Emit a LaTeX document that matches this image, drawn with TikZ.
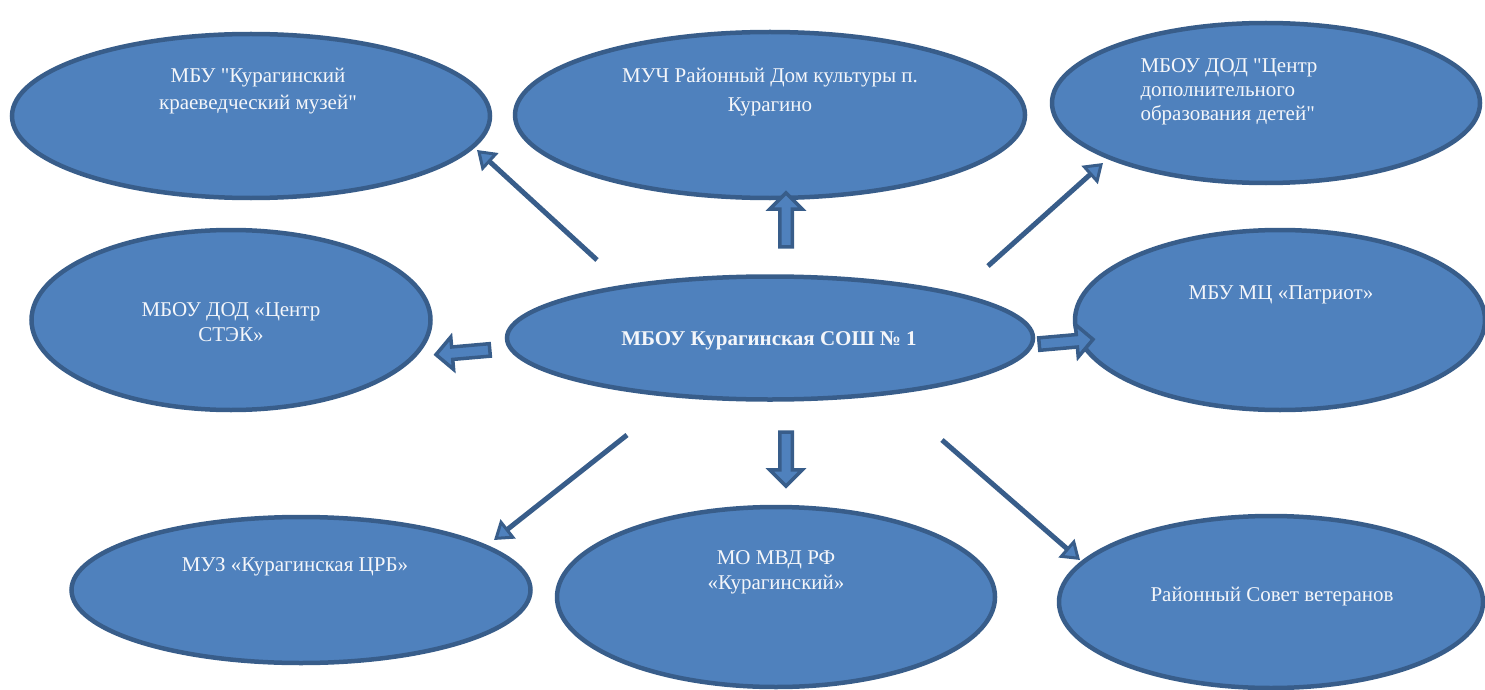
\documentclass[tikz,border=0pt]{standalone}
\usepackage{fontspec}
\setmainfont{Liberation Serif}[Ligatures=TeXOff]
\usetikzlibrary{calc, shapes.geometric, shapes.arrows, arrows.meta}

\definecolor{boxfill}{HTML}{4F81BD}
\definecolor{boxedge}{HTML}{385D8A}
\definecolor{boxtext}{HTML}{F4F6FA}

\tikzset{
	org/.style={ellipse, draw=boxedge, fill=boxfill, line width=4.5pt, inner sep=0pt},
	orgtext/.style={text=boxtext, align=center, font=\fontsize{21}{27}\selectfont},
	thinarrow/.style={draw=boxedge, line width=5pt, -{Triangle[length=18pt, width=24pt, fill=boxfill, line width=3pt]}},
	fatarrow/.style={single arrow, draw=boxedge, fill=boxfill, line width=3.5pt, inner sep=4.5pt,
		single arrow head extend=10pt, minimum height=54pt}
}

\begin{document}
\begin{tikzpicture}[x=1pt, y=-1pt]
			\useasboundingbox (0,0) rectangle (1485,690);
			\clip (0,0) rectangle (1485,690);
			
			% outer ring
			\node [org, minimum width=478pt, minimum height=164pt] (muz) at (251,116) {};
			\node [org, minimum width=510pt, minimum height=166pt] (dk) at (770,115) {};
			\node [org, minimum width=428pt, minimum height=160pt] (cdo) at (1266,103) {};
			\node [org, minimum width=399pt, minimum height=180pt] (stek) at (231,320) {};
			\node [org, minimum width=410pt, minimum height=180pt] (patr) at (1280,320) {};
			\node [org, minimum width=459pt, minimum height=146pt] (crb) at (301,590) {};
			\node [org, minimum width=438pt, minimum height=180pt] (mvd) at (776,597) {};
			\node [org, minimum width=424pt, minimum height=172pt] (svet) at (1271,602) {};
			
			% school in the middle
			\node [org, minimum width=526pt, minimum height=123pt] (sosh) at (770,338) {};
			
			% texts
			\node [orgtext] (muzT) at (258,91) {МБУ "Курагинский\\краеведческий музей"};
			\node [orgtext, font=\fontsize{21}{29}\selectfont] (dkT) at (770,92) {МУЧ Районный Дом культуры п.\\Курагино};
			\node [orgtext, align=left, font=\fontsize{21}{24}\selectfont, anchor=west] (cdoT) at (1137,92) {МБОУ ДОД "Центр\\дополнительного\\образования детей"};
			\node [orgtext, font=\fontsize{21}{25}\selectfont] (stekT) at (231,322) {МБОУ ДОД «Центр\\СТЭК»};
			\node [orgtext] (patrT) at (1281,295) {МБУ МЦ «Патриот»};
			\node [orgtext] (crbT) at (295,567) {МУЗ «Курагинская ЦРБ»};
			\node [orgtext, font=\fontsize{21}{25}\selectfont] (mvdT) at (776,572) {МО МВД РФ\\«Курагинский»};
			\node [orgtext] (svetT) at (1272,597) {Районный Совет ветеранов};
			\node [orgtext, font=\fontsize{21}{27}\selectfont\bfseries] (soshT) at (769,341) {МБОУ Курагинская СОШ № 1};
			
			% thin arrows
			\coordinate (a1) at (597,260);
			\coordinate (b1) at (477,150);
			\coordinate (a2) at (988,266);
			\coordinate (b2) at (1103,163);
			\coordinate (a3) at (627,435);
			\coordinate (b3) at (494,540);
			\coordinate (a4) at (942,440);
			\coordinate (b4) at (1080,560);
			\foreach \i in {1,...,4}
				\draw [thinarrow] (a\i) -- (b\i);
			
			% block arrows
			\node [fatarrow, rotate=90] (toDk) at (786,223) {};
			\node [fatarrow, rotate=-90] (toMvd) at (786,456) {};
			\node [fatarrow, rotate=185] (toStek) at (466,352) {};
			\node [fatarrow, rotate=5] (toPatr) at (1063,342) {};
		\end{tikzpicture}
\end{document}
